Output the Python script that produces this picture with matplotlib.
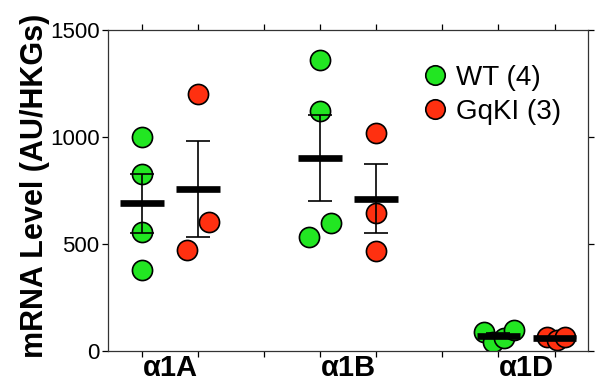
import matplotlib
matplotlib.use("Agg")
import matplotlib.pyplot as plt
import numpy as np
from matplotlib.lines import Line2D

plt.rcParams['font.family'] = ['Liberation Sans', 'DejaVu Sans']

# data
receptors = ['\u03b11A', '\u03b11B', '\u03b11D']
groups = ['WT (4)', 'GqKI (3)']

wt_a1a = [1000, 826, 556, 380]
wt_a1b = [1360, 1121, 597, 534]
wt_a1d = [90, 42, 58, 98]
ki_a1a = [1202, 601, 470]
ki_a1b = [1020, 646, 469]
ki_a1d = [66, 50, 66]

# horizontal scatter of the dots (fraction of a column)
wt_jit = [[0, 0, 0, 0], [0, 0, 0.2, -0.2], [-0.25, -0.09, 0.09, 0.27]]
ki_jit = [[0, 0.2, -0.2], [0, 0, 0], [-0.14, 0.04, 0.18]]

wt_col = '#22e622'
ki_col = '#ff3010'

fig = plt.figure(figsize=(5.99, 3.81), dpi=100)
ax = fig.add_axes([0.180, 0.079, 0.802, 0.842])

gap = 3.18
centers = np.arange(3) * gap + 0.5

def draw_group(vals, jit, x0, col):
    vals = np.array(vals, dtype=float)
    ax.scatter(x0 + np.array(jit), vals, s=210, c=col, edgecolors='black',
               linewidths=1.2, zorder=2)
    m = vals.mean()
    sem = vals.std(ddof=1) / np.sqrt(len(vals))
    ax.errorbar(x0, m, yerr=sem, fmt='none', ecolor='black', elinewidth=1.2,
                capsize=8.5, capthick=1.2, zorder=3)
    ax.hlines(m, x0 - 0.39, x0 + 0.39, colors='black', linewidth=4.8, zorder=4)

wt = [wt_a1a, wt_a1b, wt_a1d]
ki = [ki_a1a, ki_a1b, ki_a1d]
for i in range(3):
    draw_group(wt[i], wt_jit[i], centers[i] - 0.5, wt_col)
    draw_group(ki[i], ki_jit[i], centers[i] + 0.5, ki_col)

ax.set_xlim(-0.607, 7.96)
ax.set_ylim(0, 1500)
ax.set_yticks([0, 500, 1000, 1500])

cols = []
for c in centers:
    cols += [c - 0.5, c + 0.5]
cols += [centers[0] + 1.68, centers[1] + 1.68]
ax.set_xticks(sorted(cols))
ax.set_xticklabels([])
ax.set_xticks(centers, minor=True)
ax.set_xticklabels(receptors, minor=True, fontsize=21, fontweight='bold')

ax.tick_params(axis='both', which='major', direction='out', length=4,
               width=0.9, top=True, right=True, labelsize=16, pad=2)
ax.tick_params(axis='x', which='minor', length=0, pad=2)
for s in ax.spines.values():
    s.set_linewidth(0.9)
    s.set_color('#333333')

ax.set_ylabel('mRNA Level (AU/HKGs)', fontsize=22, fontweight='bold')
ax.yaxis.set_label_coords(-0.121, 0.515)

handles = [Line2D([], [], marker='o', ls='none', ms=14, mfc=c, mec='black', mew=1.2)
           for c in (wt_col, ki_col)]
ax.legend(handles, groups, loc='upper left', bbox_to_anchor=(0.595, 0.97),
          frameon=False, fontsize=20, handletextpad=0.15, labelspacing=0.3,
          handlelength=1.2)

fig.savefig('out.png', dpi=100)
